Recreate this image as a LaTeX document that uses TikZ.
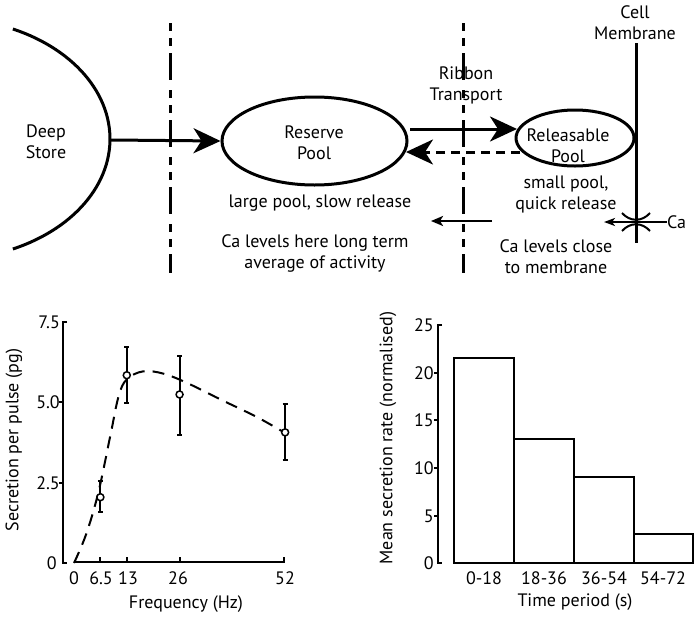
\documentclass[tikz,border=0pt]{standalone}
\usepackage{fontspec}
\setmainfont{PT Sans}
\usetikzlibrary{arrows.meta,shapes.geometric}
\begin{document}
\begin{tikzpicture}[x=1pt,y=-1pt,
  txt/.style={font=\fontsize{18}{21}\selectfont, align=center, inner sep=0pt},
  ticklbl/.style={font=\fontsize{18}{21}\selectfont, inner sep=0pt},
  pool/.style={draw, ellipse, line width=3pt, inner sep=0pt},
  bigarrow/.style={line width=3pt, -{Stealth[length=27pt,width=25pt,inset=8pt]}},
  smallarrow/.style={line width=2.5pt, -{Stealth[length=12pt,width=10pt,inset=3pt]}},
  zone/.style={line width=3pt, dash pattern=on 8pt off 7pt on 8pt off 7pt on 27pt off 10pt},
  axisline/.style={line width=2pt},
  bar/.style={draw, line width=2pt},
  errbar/.style={line width=2pt},
  marker/.style={draw, circle, fill=white, line width=1.5pt, minimum size=7pt, inner sep=0pt},
  fitcurve/.style={line width=2pt, dash pattern=on 12pt off 8pt}
]
\useasboundingbox (0,0) rectangle (695,616);

% ---------- top diagram ----------
\draw[line width=3pt, domain=-65.7:65.7, samples=60] plot ({-55+165*cos(\x)},{139+120.7*sin(\x)});
\coordinate (deepR) at (111,140);
\node[txt] (deep) at (46,142) {Deep\\Store};

\coordinate (z1t) at (170,23); \coordinate (z1b) at (170,273);
\coordinate (z2t) at (463,23); \coordinate (z2b) at (463,273);
\draw[zone] (z1t) -- (z1b);
\draw[zone] (z2t) -- (z2b);

\node[pool, minimum width=185pt, minimum height=88pt] (reserve) at (314.5,141) {};
\node[txt] (restext) at (314,143) {Reserve\\Pool};
\node[pool, minimum width=118pt, minimum height=56pt] (releasable) at (575,138) {};
\node[txt] (reltext) at (568,146) {Releasable\\Pool};

\draw[bigarrow] (deepR) -- (reserve.west);

\coordinate (fwdS) at (410,129); \coordinate (fwdE) at (517,129);
\draw[bigarrow] (fwdS) -- (fwdE);
\coordinate (bckS) at (520,152); \coordinate (bckE) at (406,152);
\draw[line width=3pt, dash pattern=on 9pt off 6pt, -{Stealth[length=27pt,width=25pt,inset=8pt]}] (bckS) -- (bckE);

\node[txt] (ribbon) at (466,85) {Ribbon\\Transport};
\node[txt] (largepool) at (320,203) {large pool, slow release};
\node[txt] (calong) at (315,253) {Ca levels here long term\\average of activity};
\node[txt] (smallpool) at (566,194) {small pool,\\quick release};
\node[txt] (caclose) at (556,257) {Ca levels close\\to membrane};
\node[txt] (cell) at (635,23) {Cell\\Membrane};

\coordinate (memT) at (636,43); \coordinate (memB) at (636,243);
\draw[line width=3pt] (memT) -- (memB);
\draw[line width=2pt] (622,213) .. controls (630,222) and (642,222) .. (650,213);
\draw[line width=2pt] (622,231) .. controls (630,222) and (642,222) .. (650,231);
\node[txt, anchor=west] (ca) at (667,222) {Ca};
\coordinate (caE) at (604,222);
\draw[line width=2pt, -{Stealth[length=11pt,width=8pt,inset=3pt]}] (ca.west) -- (caE);

\coordinate (lkS) at (492,221); \coordinate (lkE) at (431,221);
\draw[smallarrow] (lkS) -- (lkE);

% ---------- left plot ----------
\draw[axisline] (67,322) -- (63,322) -- (63,563) -- (67,563);
\draw[axisline] (63,402) -- (59,402);
\draw[axisline] (63,483) -- (59,483);
\node[ticklbl, anchor=east] (y75) at (60,322) {7.5};
\node[ticklbl, anchor=east] (y50) at (60,402) {5.0};
\node[ticklbl, anchor=east] (y25) at (60,483) {2.5};
\node[ticklbl, anchor=east] (y0) at (57,563) {0};

\draw[axisline] (75,562) -- (285,562);
\foreach \xx in {100,127,180,284} \draw[axisline] (\xx,562) -- (\xx,557);
\node[ticklbl] (x0) at (74,578) {0};
\node[ticklbl] (x65) at (101,578) {6.5};
\node[ticklbl] (x13) at (128,578) {13};
\node[ticklbl] (x26) at (178,578) {26};
\node[ticklbl] (x52) at (285,578) {52};

\node[txt, rotate=90] (ylab1) at (14,440) {Secretion per pulse (pg)};
\node[txt] (xlab1) at (186,604) {Frequency (Hz)};

\begin{scope}[shift={(74,563)}, x=4.06pt, y=32.1pt]
  \draw[fitcurve] plot[smooth, tension=0.6] coordinates {(0,0) (3,0.9) (6,2.2) (9,4.0) (11,5.2) (13,5.72) (17,5.97) (22,5.9) (28,5.6) (36,5.1) (45,4.55) (52,4.05)};
  \draw[errbar] (6.5,1.6) -- (6.5,2.55);
  \draw[errbar] (5.9,1.6) -- (7.1,1.6); \draw[errbar] (5.9,2.55) -- (7.1,2.55);
  \draw[errbar] (13,4.98) -- (13,6.72);
  \draw[errbar] (12.4,4.98) -- (13.6,4.98); \draw[errbar] (12.4,6.72) -- (13.6,6.72);
  \draw[errbar] (26,4.0) -- (26,6.45);
  \draw[errbar] (25.4,4.0) -- (26.6,4.0); \draw[errbar] (25.4,6.45) -- (26.6,6.45);
  \draw[errbar] (52,3.22) -- (52,4.95);
  \draw[errbar] (51.4,3.22) -- (52.6,3.22); \draw[errbar] (51.4,4.95) -- (52.6,4.95);
  \node[marker] (p1) at (6.5,2.05) {};
  \node[marker] (p2) at (13,5.85) {};
  \node[marker] (p3) at (26,5.25) {};
  \node[marker] (p4) at (52,4.07) {};
\end{scope}

% ---------- right plot ----------
\draw[axisline] (442,325) -- (438,325) -- (438,563) -- (442,563);
\foreach \yy in {373,420,468,516} \draw[axisline] (438,\yy) -- (434,\yy);
\node[ticklbl, anchor=east] (r25) at (434,325) {25};
\node[ticklbl, anchor=east] (r20) at (434,373) {20};
\node[ticklbl, anchor=east] (r15) at (434,420) {15};
\node[ticklbl, anchor=east] (r10) at (434,468) {10};
\node[ticklbl, anchor=east] (r5) at (434,516) {5};
\node[ticklbl, anchor=east] (r0) at (434,563) {0};

\draw[bar] (454,563) rectangle (514,358);
\draw[bar] (514,563) rectangle (574,439);
\draw[bar] (574,563) rectangle (634,477);
\draw[bar] (634,563) rectangle (693,534);

\node[ticklbl] (b1) at (484,578) {0-18};
\node[ticklbl] (b2) at (544,578) {18-36};
\node[ticklbl] (b3) at (604,578) {36-54};
\node[ticklbl] (b4) at (663,578) {54-72};

\node[txt, rotate=90] (ylab2) at (388,438) {Mean secretion rate (normalised)};
\node[txt] (xlab2) at (575,602) {Time period (s)};
\end{tikzpicture}
\end{document}
